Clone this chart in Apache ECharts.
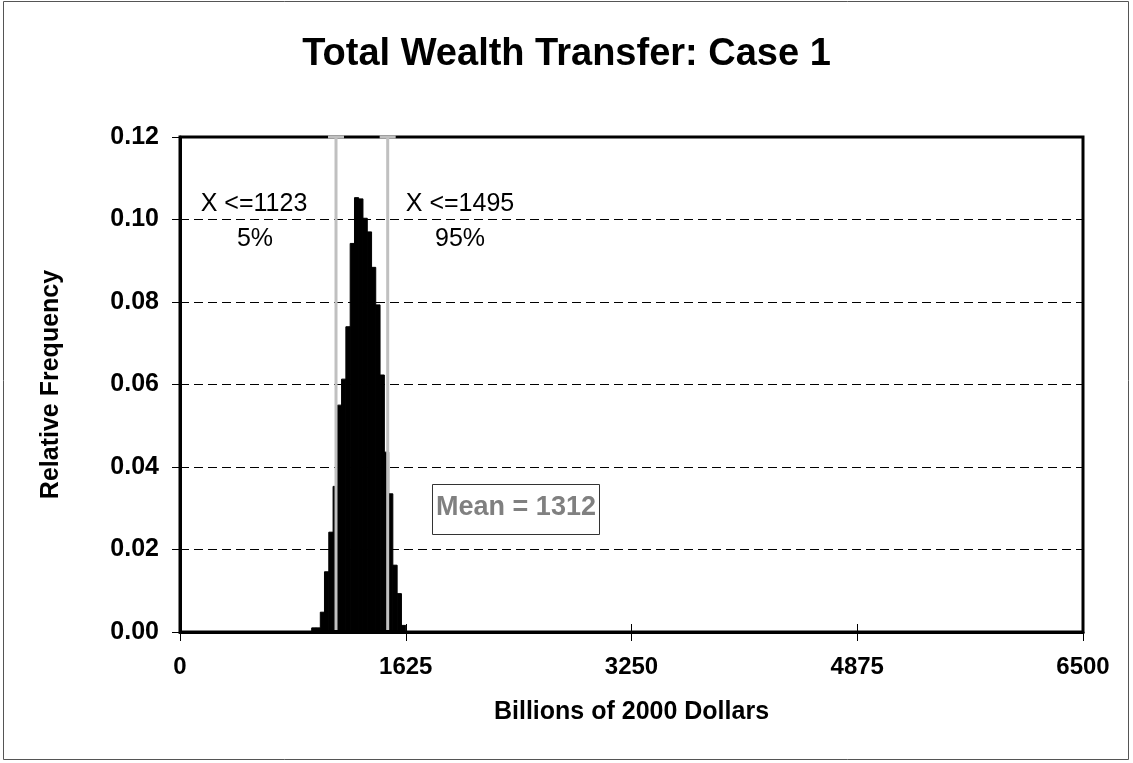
<!DOCTYPE html>
<html>
<head>
<meta charset="utf-8">
<script src="https://cdn.jsdelivr.net/npm/echarts@6/dist/echarts.min.js"></script>
<style>html,body{margin:0;padding:0;background:#fff}#c{width:1133px;height:763px}</style>
</head>
<body>
<div id="c"></div>
<script>
// ---- data ----
const titleText = 'Total Wealth Transfer: Case 1';
const xName = 'Billions of 2000 Dollars';
const yName = 'Relative Frequency';
const binEdges = [948, 979, 1010, 1040, 1071, 1102, 1133, 1163, 1194, 1225, 1256, 1286, 1317, 1348, 1379, 1409, 1440, 1471, 1502, 1532, 1563, 1594, 1625];
const relFreq = [0.0010, 0.0010, 0.0048, 0.0146, 0.0242, 0.0353, 0.0550, 0.0613, 0.0740, 0.0942, 0.1053, 0.1050, 0.1003, 0.0970, 0.0884, 0.0793, 0.0623, 0.0436, 0.0335, 0.0162, 0.0093, 0.0016];
const percentileValues = [1123, 1495];
const percentileLabels = ['5%', '95%'];
const meanValue = 1312;
const xTicks = { min: 0, max: 6500, interval: 1625 };
const yTicks = { min: 0, max: 0.12, interval: 0.02 };

const FONT = '"Liberation Sans", Arial, sans-serif';
const binData = relFreq.map((v, i) => [binEdges[i], binEdges[i + 1], v]);

const chart = echarts.init(document.getElementById('c'), null, { renderer: 'canvas' });
chart.setOption({
  animation: false,
  backgroundColor: '#fff',
  title: {
    text: titleText, left: 'center', top: 31,
    textStyle: { fontFamily: FONT, fontWeight: 'bold', fontSize: 38, color: '#000' }
  },
  grid: { left: 180, right: 50, top: 137, bottom: 131, show: true, borderColor: '#000', borderWidth: 3, backgroundColor: 'transparent' },
  xAxis: [{
    type: 'value', min: xTicks.min, max: xTicks.max, interval: xTicks.interval,
    name: xName, nameLocation: 'middle', nameGap: 68,
    nameTextStyle: { fontFamily: FONT, fontWeight: 'bold', fontSize: 25, color: '#000' },
    axisLine: { show: true, lineStyle: { color: '#000', width: 3 } },
    axisTick: { show: true, inside: false, length: 9, lineStyle: { color: '#000', width: 1 } },
    axisLabel: { margin: 23, fontFamily: FONT, fontWeight: 'bold', fontSize: 24, color: '#000', formatter: v => String(v) },
    splitLine: { show: false }
  }, {
    type: 'value', min: xTicks.min, max: xTicks.max, interval: xTicks.interval, position: 'bottom',
    axisLine: { show: false },
    axisTick: { show: true, inside: true, length: 8, lineStyle: { color: '#000', width: 1 } },
    axisLabel: { show: false }, splitLine: { show: false }
  }],
  yAxis: {
    type: 'value', min: yTicks.min, max: yTicks.max, interval: yTicks.interval,
    name: yName, nameLocation: 'middle', nameGap: 116, nameRotate: 90,
    nameTextStyle: { fontFamily: FONT, fontWeight: 'bold', fontSize: 25, color: '#000' },
    axisLine: { show: true, lineStyle: { color: '#000', width: 3 } },
    axisTick: { show: true, inside: false, length: 8, lineStyle: { color: '#000', width: 1 } },
    axisLabel: { margin: 21, fontFamily: FONT, fontWeight: 'bold', fontSize: 25, color: '#000', formatter: v => v.toFixed(2) },
    splitLine: { show: true, lineStyle: { color: '#000', width: 1, type: [9, 5] } }
  },
  series: [{
    type: 'custom', name: 'Relative Frequency', data: binData,
    encode: { x: [0, 1], y: 2 },
    renderItem: function (params, api) {
      const p0 = api.coord([api.value(0), api.value(2)]);
      const p1 = api.coord([api.value(1), 0]);
      return { type: 'rect', shape: { x: p0[0], y: p0[1], width: p1[0] - p0[0], height: p1[1] - p0[1] },
        style: { fill: '#000', stroke: '#000', lineWidth: 1 } };
    },
    z: 2
  }, {
    type: 'custom', name: 'Percentiles', data: percentileValues.map(v => [v]),
    encode: { x: 0 },
    renderItem: function (params, api) {
      const top = api.coord([api.value(0), yTicks.max]);
      const bot = api.coord([api.value(0), 0]);
      const st = { stroke: '#c0c0c0', lineWidth: 3 };
      return { type: 'group', children: [
        { type: 'line', shape: { x1: top[0], y1: top[1], x2: bot[0], y2: bot[1] - 2 }, style: st },
        { type: 'line', shape: { x1: top[0] - 8, y1: top[1], x2: top[0] + 8, y2: top[1] }, style: st }
      ] };
    },
    z: 5
  }],
  graphic: [
    { type: 'rect', shape: { x: 3.5, y: 1.5, width: 1125, height: 758 }, style: { fill: 'none', stroke: '#555', lineWidth: 1 }, z: 100 },
    { type: 'text', x: 254, y: 204, style: { text: 'X <=' + percentileValues[0], fontFamily: FONT, fontSize: 25, fill: '#000', align: 'center', verticalAlign: 'middle' }, z: 100 },
    { type: 'text', x: 255, y: 239, style: { text: percentileLabels[0], fontFamily: FONT, fontSize: 25, fill: '#000', align: 'center', verticalAlign: 'middle' }, z: 100 },
    { type: 'text', x: 460, y: 204, style: { text: 'X <=' + percentileValues[1], fontFamily: FONT, fontSize: 25, fill: '#000', align: 'center', verticalAlign: 'middle' }, z: 100 },
    { type: 'text', x: 460, y: 239, style: { text: percentileLabels[1], fontFamily: FONT, fontSize: 25, fill: '#000', align: 'center', verticalAlign: 'middle' }, z: 100 },
    { type: 'rect', shape: { x: 432.5, y: 484.5, width: 167, height: 50 }, style: { fill: '#fff', stroke: '#333', lineWidth: 1 }, z: 100 },
    { type: 'text', x: 516, y: 508, style: { text: 'Mean = ' + meanValue, fontFamily: FONT, fontWeight: 'bold', fontSize: 27, fill: '#808080', align: 'center', verticalAlign: 'middle' }, z: 101 }
  ]
});
</script>
</body>
</html>
